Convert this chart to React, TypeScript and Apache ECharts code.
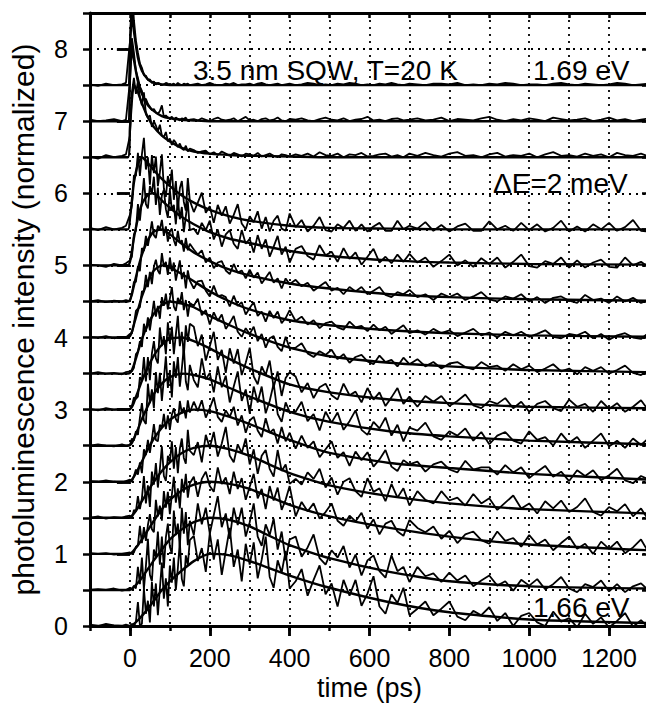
import React, { useEffect, useRef } from "react";
import * as echarts from "echarts";

// sample times of the measured (noisy) transients, ps
const times = [
  -100, -80, -60, -40, -20, -10,
  0, 5, 10, 15, 20, 25, 30, 35, 40, 45, 50, 55, 60, 65, 70, 75, 80, 85, 90, 95, 100, 105, 110, 115, 120, 125, 130, 135, 140, 145, 150,
  160, 170, 180, 190, 200, 210, 220, 230, 240, 250, 260, 270, 280, 290, 300, 310, 320, 330, 340, 350, 360, 370, 380, 390, 400,
  415, 430, 445, 460, 475, 490, 505, 520, 535, 550, 565, 580, 595, 610, 625, 640, 655, 670, 685, 700,
  720, 740, 760, 780, 800, 820, 840, 860, 880, 900, 920, 940, 960, 980, 1000, 1020, 1040, 1060, 1080, 1100, 1120, 1140, 1160, 1180, 1200, 1220, 1240, 1260, 1280, 1300,
];
// sample times of the fitted curves, ps
const fitTimes = [-100, -5, 0, 5, 10, 20, 30, 45, 60, 80, 100, 130, 160, 200, 250, 300, 400, 500, 650, 800, 1000, 1300];
// vertical offsets of the stacked transients (1.69 eV at top ... 1.66 eV at bottom)
const offsets = [7.5, 7, 6.5, 5.5, 5, 4.5, 4, 3.5, 3, 2.5, 2, 1.5, 1, 0.5, 0];
const xTickLabels = [0, 200, 400, 600, 800, 1000, 1200];
const yTickLabels = [0, 1, 2, 3, 4, 5, 6, 7, 8];

// measured normalized PL intensity above each trace's own baseline
const pl750 = [
  0.01,-0.01,0.02,0.0,0.01,0.03,
  0.6,1.35,0.9,0.62,0.45, 0.3,0.24,0.14,0.13,0.07, 0.08,0.03,0.05,0.01,0.03, 0.02,0.0,0.01,0.03,0.02, 0.0,0.01,0.02,0.0,0.03, 0.01,0.0,0.02,0.01,0.02, 0.0,
  0.01,0.02,0.0,0.01,0.03, 0.01,0.0,0.0,0.02,0.01, 0.03,0.0,0.01,0.01,0.02, 0.0,0.02,0.03,0.01,0.0, 0.01,0.02,0.0,0.01,0.02,
  0.0,0.01,0.03,0.02,0.0, 0.01,0.0,0.02,0.01,0.03, 0.02,0.0,0.01,0.0,0.02, 0.01,0.03,0.01,0.0,0.02,
  0.01,0.0,0.02,0.02,0.01, 0.03,0.0,0.01,0.0,0.02, 0.01,0.03,0.02,0.0,0.01, 0.01,0.0,0.02,0.03,0.01, 0.0,0.02,0.01,0.0,0.01, 0.03,0.02,0.0,0.01,0.02,
];
const pl700 = [
  0.02,0.0,0.01,0.03,0.0,0.02,
  0.55,1.15,0.95,0.7,0.6, 0.48,0.42,0.3,0.31,0.24, 0.2,0.15,0.17,0.12,0.1, 0.14,0.22,0.06,0.08,0.05, 0.04,0.06,0.02,0.05,0.03, 0.01,0.04,0.03,0.05,0.0, 0.02,
  0.03,0.01,0.04,0.02,0.0, 0.03,0.05,0.02,0.01,0.02, 0.04,0.0,0.03,0.06,0.01, 0.02,0.0,0.03,0.04,0.01, 0.02,0.05,0.01,0.0,0.03,
  0.02,0.04,0.01,0.0,0.03, 0.05,0.02,0.01,0.04,0.0, 0.02,0.03,0.06,0.01,0.02, 0.0,0.03,0.04,0.01,0.02,
  0.04,0.01,0.02,0.05,0.0, 0.03,0.02,0.01,0.04,0.06, 0.02,0.0,0.03,0.01,0.04, 0.02,0.0,0.05,0.03,0.01, 0.02,0.04,0.0,0.02,0.05, 0.01,0.03,0.0,0.02,0.04,
];
const pl650 = [
  0.01,-0.02,0.03,0.0,0.02,0.04,
  0.3,0.9,1.1,0.88,1.05, 0.82,0.72,0.9,0.6,0.55, 0.58,0.42,0.5,0.44,0.36, 0.45,0.3,0.28,0.35,0.22, 0.26,0.17,0.24,0.2,0.14, 0.19,0.12,0.1,0.16,0.08, 0.12,
  0.1,0.06,0.08,0.09,0.04, 0.07,0.03,0.08,0.05,0.02, 0.06,0.04,0.01,0.05,0.04, 0.02,0.06,0.01,0.03,0.05, 0.02,0.0,0.04,0.03,0.01,
  0.04,0.02,0.05,0.01,0.07, 0.03,0.02,0.05,0.0,0.04, 0.03,0.06,0.01,0.02,0.04, 0.05,0.01,0.03,0.0,0.05,
  0.02,0.06,0.03,0.01,0.05, 0.07,0.02,0.03,0.0,0.04, 0.06,0.01,0.03,0.02,0.05, 0.0,0.04,0.07,0.02,0.03, 0.01,0.05,0.02,0.04,0.0, 0.06,0.03,0.02,0.05,0.01,
];
const pl550 = [
  0.02,-0.01,0.03,0.0,0.02,0.05,
  0.2,0.33,0.75,0.74,1.06, 0.74,1.04,1.27,0.83,1.0, 0.62,1.03,0.78,1.01,0.6, 0.79,1.04,0.57,0.45,0.74, 0.6,0.83,0.41,0.67,0.27, 0.57,0.67,0.38,0.26,0.71, 0.4,
  0.24,0.37,0.51,0.23,0.32, 0.09,0.34,0.19,0.32,0.08, 0.2,0.35,0.08,0.0,0.18, 0.1,0.25,0.01,0.17,-0.03, 0.12,0.19,0.01,-0.02,0.22,
  0.03,0.13,-0.03,0.05,0.17, -0.01,-0.03,0.07,0.02,0.12, -0.02,0.07,-0.03,0.04,0.09, -0.02,-0.02,0.12,0.0,0.05,
  0.01,0.1,-0.02,0.06,-0.03, 0.04,0.08,-0.02,-0.02,0.11, 0.0,0.05,-0.02,0.09,-0.01, 0.07,-0.03,0.02,0.12,-0.03, 0.04,-0.03,0.07,0.0,0.09, -0.02,0.03,0.13,-0.02,-0.03,
];
const pl500 = [
  0.01,0.0,-0.02,0.02,0.0,0.03,
  0.07,0.12,0.43,0.48,0.85, 0.62,0.9,1.21,0.85,0.79, 1.1,1.0,1.23,0.84,1.08, 0.7,0.97,1.05,0.78,0.66, 1.05,0.76,0.84,0.57,0.93, 0.64,0.81,0.46,0.68,0.89, 0.49,
  0.51,0.43,0.59,0.49,0.62, 0.36,0.5,0.26,0.43,0.49, 0.3,0.23,0.49,0.3,0.37, 0.18,0.42,0.23,0.36,0.12, 0.26,0.41,0.15,0.26,0.04,
  0.23,0.27,0.13,0.08,0.28, 0.14,0.19,0.05,0.24,0.09, 0.18,0.01,0.12,0.23,0.04, 0.12,0.03,0.15,0.05,0.16,
  0.04,0.11,-0.02,0.06,0.15, 0.0,0.07,-0.02,0.1,0.02, 0.11,-0.03,0.05,0.15,-0.01, -0.03,0.06,0.02,0.11,-0.03, 0.07,-0.03,0.04,0.08,-0.02, -0.03,0.11,0.0,0.05,-0.03,
];
const pl450 = [
  0.0,0.02,-0.01,0.01,0.0,0.02,
  0.0,0.11,0.27,0.27,0.49, 0.42,0.74,0.7,0.91,0.77, 0.93,1.11,0.92,0.88,1.05, 1.0,1.13,0.91,1.04,0.83, 0.97,1.01,0.85,0.77,0.98, 0.81,0.85,0.69,0.88,0.71, 0.8,
  0.72,0.65,0.71,0.54,0.61, 0.46,0.54,0.56,0.43,0.38, 0.52,0.4,0.43,0.32,0.44, 0.33,0.4,0.25,0.33,0.41, 0.26,0.32,0.18,0.32,0.24,
  0.3,0.21,0.26,0.15,0.21, 0.27,0.15,0.19,0.1,0.2, 0.14,0.2,0.1,0.15,0.2, 0.09,0.06,0.13,0.1,0.16,
  0.06,0.1,0.02,0.11,0.06, 0.11,0.02,0.07,0.13,0.03, 0.0,0.07,0.04,0.1,0.0, 0.06,-0.02,0.05,0.07,0.01, -0.02,0.09,0.02,0.04,-0.02, 0.07,0.0,0.05,-0.02,0.02,
];
const pl400 = [
  0.01,0.0,0.02,-0.01,0.01,0.0,
  0.05,0.06,0.19,0.37,0.4, 0.42,0.64,0.64,0.87,0.7, 0.91,0.74,0.98,1.08,0.93, 0.88,1.17,0.98,1.05,0.87, 1.11,0.92,1.04,0.79,0.93, 1.07,0.81,0.91,0.68,0.93, 0.79,
  0.68,0.78,0.79,0.65,0.57, 0.72,0.57,0.59,0.56,0.43, 0.58,0.44,0.49,0.32,0.41, 0.49,0.3,0.36,0.22,0.37, 0.27,0.36,0.2,0.27,0.38,
  0.23,0.29,0.18,0.24,0.13, 0.2,0.22,0.14,0.11,0.22, 0.14,0.16,0.09,0.18,0.1, 0.15,0.05,0.11,0.17,0.06,
  0.1,0.04,0.12,0.06,0.1, 0.02,0.07,0.12,0.03,0.07, 0.0,0.08,0.03,0.08,0.01, 0.05,0.1,0.01,-0.01,0.05, 0.03,0.08,-0.01,0.05,-0.03, 0.03,0.06,0.0,-0.02,0.07,
];
const pl350 = [
  0.0,0.02,0.0,0.01,-0.01,0.02,
  0.03,0.03,0.08,0.27,0.3, 0.45,0.37,0.69,0.58,0.78, 0.6,0.8,1.01,0.79,0.94, 0.76,1.06,0.94,1.11,0.89, 1.04,1.2,0.93,0.87,1.05, 0.97,1.13,0.88,1.02,0.79, 0.98,
  0.94,1.04,0.81,0.88,0.68, 0.85,0.73,0.82,0.62,0.7, 0.8,0.58,0.51,0.63,0.55, 0.65,0.45,0.55,0.36,0.49, 0.52,0.37,0.31,0.51,0.35,
  0.36,0.42,0.28,0.23,0.31, 0.26,0.33,0.2,0.27,0.15, 0.23,0.26,0.17,0.13,0.25, 0.16,0.19,0.1,0.22,0.13,
  0.2,0.1,0.16,0.07,0.14, 0.16,0.09,0.06,0.16,0.09, 0.11,0.04,0.13,0.06,0.11, 0.02,0.07,0.13,0.03,0.07, -0.01,0.09,0.04,0.09,0.0, 0.05,0.11,0.01,-0.02,0.05,
];
const pl300 = [
  0.01,-0.01,0.02,0.0,0.01,0.0,
  0.0,0.05,0.17,0.15,0.18, 0.45,0.4,0.73,0.39,0.73, 0.41,0.78,0.95,0.71,0.64, 1.14,0.88,1.02,0.77,1.21, 0.92,1.15,0.77,1.04,1.3, 0.88,1.08,0.74,1.17,0.94, 1.19,
  1.15,0.88,1.04,0.68,0.88, 1.08,0.69,0.83,0.51,0.85, 0.64,0.84,0.48,0.65,0.86, 0.46,0.35,0.6,0.48,0.68, 0.31,0.53,0.19,0.44,0.52,
  0.46,0.24,0.37,0.16,0.31, 0.36,0.2,0.14,0.36,0.2, 0.25,0.1,0.3,0.14,0.24, 0.05,0.17,0.3,0.08,0.18,
  0.04,0.19,0.11,0.19,0.05, 0.12,0.21,0.06,0.02,0.12, 0.08,0.16,0.02,0.11,-0.03, 0.08,0.12,0.02,-0.02,0.14, 0.04,0.08,-0.03,0.12,0.01, 0.09,-0.03,0.04,0.13,-0.02,
];
const pl250 = [
  0.0,0.02,0.0,-0.01,0.02,0.0,
  0.01,0.1,0.07,0.2,0.15, 0.39,0.59,0.35,0.3,0.86, 0.59,0.78,0.52,1.02,0.73, 1.01,0.62,0.93,1.24,0.8, 1.04,0.67,1.17,0.94,1.23, 0.82,1.07,1.37,0.89,0.77, 1.12,
  0.91,0.81,1.21,0.92,1.01, 0.74,1.1,0.81,0.97,0.6, 0.82,1.03,0.62,0.78,0.45, 0.82,0.6,0.82,0.45,0.62, 0.86,0.44,0.33,0.6,0.47,
  0.47,0.61,0.34,0.44,0.21, 0.47,0.32,0.46,0.22,0.34, 0.49,0.22,0.15,0.33,0.24, 0.39,0.14,0.29,0.06,0.25,
  0.21,0.32,0.13,0.08,0.2, 0.14,0.24,0.07,0.19,0.02, 0.14,0.19,0.07,0.03,0.2, 0.08,0.12,0.0,0.17,0.04, 0.12,-0.03,0.07,0.17,-0.01, 0.07,-0.03,0.1,0.01,0.11,
];
const pl200 = [
  0.01,0.0,0.02,0.0,-0.01,0.01,
  0.03,0.0,0.08,0.17,0.1, 0.27,0.12,0.45,0.37,0.58, 0.4,0.59,0.8,0.58,0.56, 0.79,0.75,0.94,0.73,0.92, 0.72,0.93,1.02,0.87,0.82, 1.12,0.95,1.03,0.88,1.13, 0.96,
  1.11,0.98,1.13,0.89,1.02, 1.17,0.9,0.83,0.99,0.9, 1.04,0.78,0.92,0.68,0.85, 0.9,0.71,0.62,0.88,0.68, 0.73,0.53,0.76,0.56,0.68,
  0.46,0.64,0.47,0.56,0.34, 0.45,0.56,0.33,0.41,0.22, 0.42,0.3,0.41,0.21,0.31, 0.44,0.21,0.15,0.3,0.24,
  0.28,0.14,0.24,0.28,0.17, 0.13,0.29,0.17,0.2,0.2, 0.1,0.23,0.13,0.2,0.05, 0.14,0.22,0.07,0.14,0.01, 0.16,0.08,0.16,0.02,0.09, 0.18,0.02,-0.02,0.08,0.03,
];
const pl150 = [
  0.0,0.02,-0.01,0.01,0.0,0.02,
  0.03,-0.01,0.11,0.09,0.3, 0.12,0.27,0.58,0.2,0.45, 0.15,0.64,0.46,0.76,0.42, 0.68,0.99,0.58,0.51,0.86, 0.77,1.06,0.68,0.98,0.62, 0.96,1.1,0.83,0.75,1.22, 0.93,
  0.87,1.05,0.77,1.15,0.97, 1.19,0.85,1.03,1.26,0.86, 0.77,1.02,0.9,1.1,0.74, 0.95,0.61,0.86,0.94,0.68, 0.57,0.94,0.65,0.74,0.47,
  0.54,0.46,0.63,0.54,0.68, 0.42,0.56,0.32,0.5,0.55, 0.37,0.29,0.55,0.36,0.41, 0.23,0.47,0.28,0.41,0.17,
  0.37,0.25,0.2,0.37,0.24, 0.28,0.17,0.33,0.2,0.27, 0.11,0.21,0.31,0.13,0.2, 0.06,0.23,0.13,0.24,0.08, 0.15,0.27,0.08,0.03,0.15, 0.09,0.19,0.02,0.13,-0.04,
];
const pl100 = [
  0.01,0.0,0.01,-0.01,0.0,0.01,
  0.02,0.0,0.02,0.1,0.12, 0.39,0.15,0.37,0.18,0.4, 0.55,0.34,0.3,0.75,0.52, 0.67,0.46,0.87,0.64,0.86, 0.55,0.82,1.07,0.71,0.91, 0.63,1.04,0.85,1.11,0.78, 0.98,
  1.07,0.79,1.04,1.14,0.94, 0.86,1.2,0.97,1.06,0.83, 1.14,0.9,1.05,0.75,0.93, 1.11,0.77,0.9,0.62,0.94, 0.74,0.92,0.61,0.75,0.94,
  0.52,0.72,0.59,0.7,0.49, 0.58,0.7,0.46,0.39,0.53, 0.45,0.57,0.35,0.48,0.27, 0.42,0.46,0.31,0.25,0.47,
  0.36,0.3,0.38,0.21,0.32, 0.15,0.27,0.31,0.19,0.14, 0.31,0.18,0.22,0.1,0.26, 0.13,0.2,0.05,0.15,0.24, 0.07,0.14,0.0,0.17,0.07, 0.17,0.01,0.09,0.2,0.01,
];
const pl050 = [
  0.0,0.01,0.0,0.02,-0.01,0.0,
  0.03,0.0,0.06,0.02,0.32, 0.08,0.45,0.01,0.33,0.71, 0.21,0.12,0.56,0.45,0.81, 0.35,0.74,0.3,0.73,0.92, 0.6,0.5,1.1,0.76,0.92, 0.6,1.14,0.78,1.08,0.62, 0.96,
  0.76,1.2,0.91,1.14,0.78, 1.04,1.3,0.87,1.06,0.71, 1.14,0.9,1.14,0.74,0.94, 1.2,0.74,0.61,0.91,0.76, 0.99,0.56,0.81,0.41,0.7,
  0.74,0.46,0.59,0.77,0.44, 0.35,0.55,0.45,0.61,0.31, 0.49,0.2,0.41,0.48,0.26, 0.17,0.48,0.26,0.32,0.11,
  0.32,0.19,0.23,0.11,0.24, 0.13,0.2,0.05,0.13,0.2, 0.06,0.12,-0.01,0.14,0.06, 0.15,0.01,0.08,0.18,0.02, -0.03,0.08,0.04,0.13,-0.02, 0.08,-0.03,0.05,0.09,-0.01,
];
const pl000 = [
  0.02,0.0,0.03,0.01,0.0,0.02,
  0.0,0.03,-0.01,0.06,0.33, 0.01,0.03,0.52,0.17,0.35, 0.05,0.61,0.27,0.59,0.15, 0.52,0.88,0.38,0.66,0.27, 0.84,0.6,0.95,0.5,0.8, 1.17,0.65,0.55,0.98,0.85, 1.19,
  1.25,0.9,1.08,0.75,1.29, 0.92,1.2,0.71,1.04,1.36, 0.82,1.06,0.62,1.14,0.85, 1.16,0.66,0.92,1.24,0.68, 0.53,0.91,0.74,1.04,0.52,
  0.62,0.79,0.42,0.64,0.84, 0.44,0.59,0.27,0.64,0.42, 0.64,0.28,0.45,0.69,0.27, 0.17,0.44,0.32,0.53,0.15,
  0.24,0.34,0.15,0.24,0.34, 0.13,0.08,0.21,0.15,0.26, 0.07,0.18,0.0,0.14,0.18, 0.05,0.0,0.2,0.06,0.11, -0.02,0.17,0.03,0.12,-0.02, 0.07,0.18,-0.01,0.08,-0.03,
];

// fitted curves (normalized, above baseline) at fitTimes
const fit750 = [0,0,0.5,1.0,0.75,0.38,0.2,0.08,0.03,0.01,0,0,0,0,0,0,0,0,0,0,0,0];
const fit700 = [0,0,0.6,1.0,0.85,0.55,0.38,0.22,0.14,0.07,0.04,0.02,0.01,0,0,0,0,0,0,0,0,0];
const fit650 = [0,0,0.4,0.8,1.0,0.9,0.75,0.55,0.42,0.3,0.22,0.13,0.08,0.05,0.03,0.02,0.01,0,0,0,0,0];
const fit550 = [0,0,0.15,0.4,0.65,0.9,1.0,0.92,0.82,0.7,0.6,0.47,0.37,0.27,0.18,0.12,0.05,0.02,0.01,0,0,0];
const fit500 = [0,0,0.05,0.2,0.38,0.65,0.85,0.98,1.0,0.9,0.8,0.67,0.57,0.46,0.37,0.31,0.2,0.13,0.07,0.04,0.02,0.01];
const fit450 = [0,0,0.02,0.1,0.22,0.45,0.65,0.85,0.97,1.0,0.93,0.8,0.68,0.56,0.44,0.36,0.25,0.18,0.1,0.06,0.03,0.01];
const fit400 = [0,0,0.02,0.08,0.18,0.38,0.57,0.78,0.93,1.0,0.97,0.88,0.78,0.64,0.5,0.39,0.24,0.17,0.1,0.06,0.03,0.01];
const fit350 = [0,0,0.01,0.05,0.12,0.3,0.48,0.68,0.83,0.95,1.0,0.97,0.92,0.8,0.67,0.55,0.36,0.24,0.15,0.1,0.05,0.02];
const fit300 = [0,0,0.01,0.04,0.1,0.25,0.4,0.59,0.75,0.9,0.98,1.0,0.95,0.85,0.7,0.57,0.35,0.24,0.14,0.09,0.04,0.02];
const fit250 = [0,0,0.01,0.04,0.1,0.23,0.37,0.55,0.72,0.86,0.95,1.0,0.98,0.92,0.8,0.68,0.47,0.33,0.2,0.13,0.07,0.02];
const fit200 = [0,0,0.01,0.03,0.07,0.17,0.28,0.45,0.6,0.75,0.86,0.96,1.0,0.98,0.9,0.8,0.58,0.4,0.26,0.19,0.11,0.03];
const fit150 = [0,0,0.01,0.03,0.06,0.14,0.23,0.37,0.5,0.65,0.77,0.9,0.97,1.0,0.95,0.86,0.62,0.45,0.3,0.2,0.12,0.06];
const fit100 = [0,0,0,0.02,0.05,0.12,0.2,0.33,0.46,0.62,0.75,0.88,0.96,1.0,0.97,0.9,0.68,0.52,0.36,0.24,0.13,0.05];
const fit050 = [0,0,0,0.02,0.04,0.1,0.17,0.29,0.41,0.56,0.7,0.84,0.94,1.0,0.97,0.88,0.62,0.44,0.25,0.12,0.05,0.02];
const fit000 = [0,0,0,0.01,0.03,0.08,0.14,0.24,0.35,0.5,0.62,0.77,0.9,1.0,0.98,0.9,0.7,0.53,0.33,0.19,0.09,0.04];

const measured = [pl750, pl700, pl650, pl550, pl500, pl450, pl400, pl350, pl300, pl250, pl200, pl150, pl100, pl050, pl000];
const fitted = [fit750, fit700, fit650, fit550, fit500, fit450, fit400, fit350, fit300, fit250, fit200, fit150, fit100, fit050, fit000];

const FONT = "'Liberation Sans', Arial, Helvetica, sans-serif";
const BLACK = "#000";

export default function App() {
  const ref = useRef<HTMLDivElement>(null);

  useEffect(() => {
    if (!ref.current) return;
    const chart = echarts.init(ref.current, null, { renderer: "svg" });

    const dotted = { color: BLACK, width: 1.8, type: [2, 5] };
    const tickStyle = { color: BLACK, width: 2.5 };
    const textStyle = { fontFamily: FONT, color: BLACK };

    const series: any[] = [];
    offsets.forEach((off, i) => {
      series.push({
        type: "line",
        xAxisIndex: 0,
        yAxisIndex: 0,
        data: times.map((t, j) => [t, off + measured[i][j]]),
        showSymbol: false,
        symbol: "none",
        silent: true,
        z: 2,
        lineStyle: { color: BLACK, width: 1.8 },
      });
      series.push({
        type: "line",
        xAxisIndex: 0,
        yAxisIndex: 0,
        data: fitTimes.map((t, j) => [t, off + fitted[i][j]]),
        showSymbol: false,
        symbol: "none",
        silent: true,
        smooth: 0.2,
        z: 3,
        lineStyle: { color: BLACK, width: 2.4 },
      });
    });

    chart.setOption({
      animation: false,
      backgroundColor: "#fff",
      grid: { left: 90, top: 13, right: 1, bottom: 78, outerBoundsMode: "none", show: false },
      xAxis: [
        {
          type: "value", min: -100, max: 1300, interval: 100, position: "bottom",
          name: "time (ps)", nameLocation: "middle", nameGap: 48,
          nameTextStyle: { ...textStyle, fontSize: 27 },
          axisLine: { show: true, onZero: false, lineStyle: { color: BLACK, width: 3 } },
          axisTick: { show: true, length: 5, lineStyle: tickStyle },
          axisLabel: { show: false },
          splitLine: { show: true, lineStyle: dotted },
        },
        {
          type: "value", min: -100, max: 1300, position: "bottom",
          axisLine: { show: false },
          axisTick: { show: true, length: 10, customValues: xTickLabels, lineStyle: tickStyle },
          axisLabel: {
            show: true, customValues: xTickLabels, margin: 19, fontSize: 25, ...textStyle,
            formatter: (v: number) => String(v),
          },
          splitLine: { show: false },
        },
        {
          type: "value", min: -100, max: 1300, interval: 100, position: "top",
          axisLine: { show: true, onZero: false, lineStyle: { color: BLACK, width: 3 } },
          axisTick: { show: true, inside: true, length: 5, lineStyle: tickStyle },
          axisLabel: { show: false },
          splitLine: { show: false },
        },
        {
          type: "value", min: -100, max: 1300, position: "top",
          axisLine: { show: false },
          axisTick: { show: true, inside: true, length: 10, customValues: xTickLabels, lineStyle: tickStyle },
          axisLabel: { show: false },
          splitLine: { show: false },
        },
      ],
      yAxis: [
        {
          type: "value", min: 0, max: 8.5, interval: 0.5, position: "left",
          name: "photoluminescence intensity (normalized)", nameLocation: "middle", nameGap: 52,
          nameTextStyle: { ...textStyle, fontSize: 30 },
          axisLine: { show: true, onZero: false, lineStyle: { color: BLACK, width: 3 } },
          axisTick: { show: true, length: 7, lineStyle: tickStyle },
          axisLabel: { show: false },
          splitLine: { show: true, lineStyle: dotted },
        },
        {
          type: "value", min: 0, max: 8.5, position: "left",
          axisLine: { show: false },
          axisTick: { show: true, length: 13, customValues: yTickLabels, lineStyle: tickStyle },
          axisLabel: {
            show: true, customValues: yTickLabels, margin: 22, fontSize: 25, ...textStyle,
            formatter: (v: number) => String(v),
          },
          splitLine: { show: false },
        },
        {
          type: "value", min: 0, max: 8.5, interval: 0.5, position: "right",
          axisLine: { show: true, onZero: false, lineStyle: { color: BLACK, width: 3 } },
          axisTick: { show: true, inside: true, length: 7, lineStyle: tickStyle },
          axisLabel: { show: false },
          splitLine: { show: false },
        },
        {
          type: "value", min: 0, max: 8.5, position: "right",
          axisLine: { show: false },
          axisTick: { show: true, inside: true, length: 13, customValues: yTickLabels, lineStyle: tickStyle },
          axisLabel: { show: false },
          splitLine: { show: false },
        },
      ],
      graphic: [
        { type: "text", x: 193, y: 70, z: 10, style: { text: "3.5 nm SQW, T=20 K", fontSize: 28, fontFamily: FONT, fill: BLACK, verticalAlign: "middle" } },
        { type: "text", x: 533, y: 70, z: 10, style: { text: "1.69 eV", fontSize: 28, fontFamily: FONT, fill: BLACK, verticalAlign: "middle" } },
        { type: "text", x: 493, y: 183, z: 10, style: { text: "ΔE=2 meV", fontSize: 28, fontFamily: FONT, fill: BLACK, verticalAlign: "middle" } },
        { type: "text", x: 533, y: 607, z: 10, style: { text: "1.66 eV", fontSize: 28, fontFamily: FONT, fill: BLACK, verticalAlign: "middle" } },
      ],
      series,
    });

    return () => chart.dispose();
  }, []);

  return (
    <div style={{ position: "fixed", left: 0, top: 0, width: 646, height: 704, overflow: "hidden", background: "#fff" }}>
      <div ref={ref} style={{ width: 650, height: 704 }} />
    </div>
  );
}
